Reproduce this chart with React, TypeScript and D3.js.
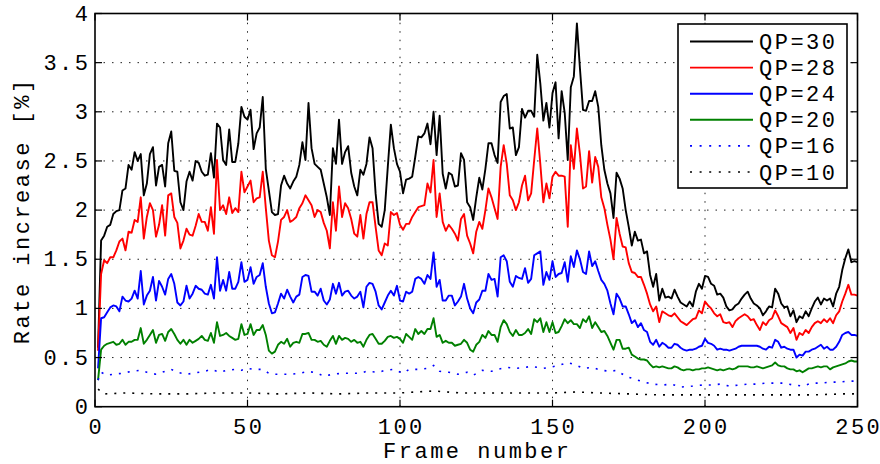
import React from "react";
import * as d3 from "d3";

const qp30 = [
  0.6, 1.69, 1.74, 1.83, 1.85, 1.96, 1.99, 2.0, 2.2, 2.22,
  2.46, 2.41, 2.59, 2.5, 2.57, 2.15, 2.27, 2.57, 2.64, 2.25,
  2.44, 2.46, 2.24, 2.68, 2.8, 2.4, 2.39, 2.08, 2.0, 2.29,
  2.39, 2.3, 2.5, 2.48, 2.39, 2.35, 2.36, 2.58, 2.33, 2.88,
  2.84, 2.51, 2.46, 2.82, 2.49, 2.49, 2.68, 3.05, 2.95, 2.92,
  3.02, 2.62, 2.78, 2.84, 3.15, 2.42, 2.2, 1.98, 1.95, 1.96,
  2.25, 2.35, 2.27, 2.22, 2.29, 2.34, 2.46, 2.69, 2.51, 3.09,
  2.63, 2.47, 2.44, 2.41, 2.27, 2.13, 1.95, 2.63, 2.47, 2.92,
  2.47, 2.59, 2.65, 2.38, 2.24, 2.15, 2.41, 2.36, 2.47, 2.74,
  2.63, 2.17, 1.86, 1.83, 2.0, 2.44, 2.87, 2.63, 2.47, 2.39,
  2.17, 2.31, 2.32, 2.34, 2.54, 2.75, 2.74, 2.78, 2.88, 2.67,
  3.0, 2.56, 2.96, 2.37, 2.22, 2.38, 2.36, 2.24, 2.25, 2.58,
  2.51, 2.08, 2.03, 1.9, 2.13, 2.33, 2.21, 2.42, 2.68, 2.68,
  2.56, 2.48, 3.1, 3.16, 3.18, 2.83, 2.84, 2.56, 2.64, 3.03,
  2.94, 3.01, 3.01, 2.95, 3.58, 3.29, 2.91, 3.09, 2.84, 3.19,
  3.3, 2.73, 3.21, 2.99, 2.51, 3.25, 3.36, 3.9, 3.44, 3.02,
  3.01, 3.11, 3.11, 3.21, 3.05, 2.66, 2.41, 2.27, 2.17, 1.92,
  2.38, 2.32, 2.22, 2.0, 1.83, 1.64, 1.78, 1.69, 1.7, 1.56,
  1.58, 1.34, 1.22, 1.35, 1.08, 1.2, 1.11, 1.12, 1.1, 1.19,
  1.12, 1.06, 1.04, 1.02, 1.07, 1.02, 1.17, 1.25, 1.2, 1.33,
  1.32, 1.25, 1.23, 1.14, 1.15, 1.11, 1.02, 0.98, 0.99, 1.03,
  1.05, 1.1, 1.14, 1.17, 1.1, 1.05, 1.03, 1.0, 0.93, 0.97,
  1.02, 1.01, 1.2, 1.15, 1.05, 1.01, 1.02, 0.92, 0.98, 0.86,
  0.92, 0.9, 0.97, 0.92, 1.0, 1.07, 1.11, 1.04, 1.1, 1.08,
  1.1, 1.02, 1.15, 1.22, 1.39, 1.51, 1.6, 1.47, 1.48, 1.47,
];

const qp28 = [
  0.57, 1.35, 1.49, 1.46, 1.52, 1.52, 1.59, 1.68, 1.71, 1.59,
  1.78, 1.77, 1.9, 1.88, 2.13, 1.71, 1.93, 2.07, 2.0, 1.73,
  1.85, 2.05, 1.74, 2.15, 2.17, 1.93, 1.87, 1.61, 1.69, 1.81,
  1.75, 1.74, 1.84, 1.96, 1.88, 1.88, 1.79, 2.03, 1.76, 2.51,
  2.0, 2.05, 1.96, 2.13, 1.97, 2.02, 1.98, 2.39, 2.18, 2.24,
  2.3, 2.08, 2.12, 2.13, 2.39, 2.02, 1.69, 1.54, 1.52, 1.68,
  1.9, 1.93, 2.0, 1.88, 1.9, 1.93, 2.02, 2.07, 2.15, 2.1,
  2.05, 1.93, 2.0, 1.98, 1.87, 1.79, 1.61, 2.08, 1.79, 2.24,
  1.93, 2.07, 2.02, 1.91, 1.76, 1.73, 1.95, 1.71, 1.96, 2.08,
  2.08, 1.83, 1.59, 1.54, 1.66, 1.64, 1.98, 1.95, 1.97, 1.85,
  1.8, 1.86, 1.86, 1.93, 1.98, 2.03, 2.04, 2.05, 2.27, 2.18,
  2.51, 1.93, 2.17, 1.88, 1.79, 1.85, 1.81, 1.76, 1.69, 1.91,
  1.96, 1.74, 1.66, 1.56, 1.78, 1.88, 1.81, 2.0, 2.22, 2.13,
  2.02, 1.91, 2.44, 2.66, 2.47, 2.15, 2.1, 2.0, 2.08, 2.25,
  2.35, 2.1, 2.17, 2.51, 2.83, 2.47, 2.08, 2.27, 2.12, 2.34,
  2.39, 2.35, 2.35, 2.34, 1.83, 2.66, 2.42, 2.83, 2.57, 2.22,
  2.24, 2.6, 2.28, 2.54, 2.44, 2.13, 2.02, 1.85, 1.7, 1.5,
  1.92, 1.76, 1.63, 1.62, 1.46, 1.37, 1.36, 1.32, 1.32, 1.24,
  1.15, 1.04, 0.97, 1.02, 0.86, 0.97, 0.95, 0.93, 0.92, 0.95,
  0.91, 0.87, 0.85, 0.83, 0.86, 0.89, 0.9, 0.98, 0.95, 1.07,
  1.03, 1.0, 0.95, 0.92, 0.94, 0.86, 0.85, 0.86, 0.81, 0.87,
  0.9, 0.92, 0.94, 0.92, 0.88, 0.89, 0.83, 0.78, 0.86, 0.83,
  0.88, 0.9, 0.98, 0.92, 0.85, 0.83, 0.81, 0.75, 0.8, 0.68,
  0.75, 0.73, 0.78, 0.75, 0.81, 0.85, 0.87, 0.85, 0.89, 0.86,
  0.9, 0.85, 0.93, 0.97, 1.07, 1.15, 1.24, 1.14, 1.14, 1.13,
];

const qp24 = [
  0.39, 0.9, 0.91, 0.96, 1.01, 1.03, 1.02, 0.97, 1.12, 1.08,
  1.07, 1.1, 1.18, 1.1, 1.38, 1.04, 1.13, 1.18, 1.32, 1.08,
  1.28, 1.22, 1.14, 1.3, 1.35, 1.25, 1.06, 1.03, 1.07, 1.23,
  1.1, 1.15, 1.23, 1.2, 1.19, 1.15, 1.14, 1.24, 1.1, 1.52,
  1.18, 1.29, 1.18, 1.37, 1.2, 1.2, 1.27, 1.47, 1.27, 1.29,
  1.42, 1.25, 1.32, 1.34, 1.46, 1.22, 1.05, 0.95, 0.96, 1.05,
  1.15, 1.1, 1.19, 1.12, 1.06, 1.12, 1.14, 1.32, 1.34, 1.33,
  1.17, 1.17, 1.13, 1.2, 1.08, 1.04, 1.09, 1.25, 1.15, 1.26,
  1.13, 1.17, 1.18, 1.13, 1.1, 1.12, 1.17, 1.01, 1.22, 1.26,
  1.25, 1.17, 1.03, 0.99, 1.06, 1.13, 1.18, 1.13, 1.23, 1.08,
  1.07, 1.17, 1.15, 1.17, 1.3, 1.32, 1.3, 1.25, 1.34, 1.3,
  1.57, 1.22, 1.29, 1.08, 1.08, 1.13, 1.13, 1.03, 1.07, 1.12,
  1.25, 1.1, 1.0, 0.95, 1.06, 1.09, 1.18, 1.18, 1.35, 1.29,
  1.3, 1.12, 1.52, 1.54, 1.48, 1.27, 1.22, 1.33, 1.31, 1.3,
  1.41, 1.26, 1.3, 1.54, 1.56, 1.58, 1.24, 1.37, 1.29, 1.48,
  1.32, 1.35, 1.36, 1.47, 1.27, 1.53, 1.42, 1.59, 1.5, 1.37,
  1.35, 1.58, 1.43, 1.48, 1.38, 1.29, 1.25, 1.18, 1.05, 0.94,
  1.15, 1.1, 1.02, 1.02, 0.94, 0.85, 0.88, 0.81, 0.85, 0.78,
  0.76, 0.66, 0.63, 0.68, 0.61, 0.65, 0.63, 0.6, 0.6, 0.64,
  0.63, 0.6, 0.58, 0.57, 0.58, 0.58, 0.59, 0.61, 0.62, 0.69,
  0.65, 0.64, 0.62, 0.58, 0.59, 0.58, 0.58, 0.57, 0.58, 0.59,
  0.61, 0.62, 0.62, 0.62, 0.62, 0.62, 0.62, 0.61, 0.59, 0.58,
  0.61, 0.6, 0.68, 0.66, 0.6, 0.61, 0.59, 0.58, 0.58, 0.5,
  0.53, 0.52, 0.56, 0.56, 0.58, 0.59, 0.61, 0.63, 0.59, 0.61,
  0.58, 0.58, 0.61, 0.66, 0.73, 0.75, 0.76, 0.73, 0.73, 0.72,
];

const qp20 = [
  0.27, 0.58, 0.62, 0.64, 0.65, 0.66, 0.63, 0.64, 0.68, 0.63,
  0.66, 0.66, 0.68, 0.68, 0.8, 0.64, 0.68, 0.73, 0.78, 0.65,
  0.73, 0.74, 0.67, 0.76, 0.79, 0.74, 0.68, 0.64, 0.68, 0.63,
  0.68, 0.65, 0.67, 0.69, 0.72, 0.68, 0.67, 0.75, 0.65, 0.86,
  0.72, 0.73, 0.75, 0.72, 0.7, 0.68, 0.69, 0.84, 0.73, 0.74,
  0.84, 0.73, 0.78, 0.78, 0.83, 0.73, 0.57, 0.54, 0.56, 0.63,
  0.66, 0.64, 0.69, 0.61, 0.65, 0.66, 0.65, 0.74, 0.74, 0.75,
  0.68, 0.68, 0.66, 0.67, 0.63, 0.61, 0.67, 0.72, 0.64, 0.72,
  0.68, 0.7, 0.69, 0.66, 0.68, 0.65, 0.66, 0.61, 0.68, 0.73,
  0.74, 0.69, 0.64, 0.64, 0.67, 0.71, 0.72, 0.7, 0.71, 0.69,
  0.65, 0.74, 0.71, 0.68, 0.79, 0.74, 0.77, 0.74, 0.79, 0.79,
  0.9, 0.71, 0.73, 0.65, 0.67, 0.65, 0.65, 0.62, 0.63, 0.64,
  0.68, 0.65, 0.58, 0.56, 0.63, 0.66, 0.73, 0.7, 0.77, 0.73,
  0.73, 0.66, 0.81, 0.88, 0.84, 0.76, 0.72, 0.78, 0.73, 0.73,
  0.75, 0.79, 0.74, 0.89, 0.86, 0.9, 0.76, 0.86, 0.76, 0.86,
  0.75, 0.76, 0.82, 0.89, 0.85, 0.88, 0.84, 0.84, 0.8, 0.89,
  0.86, 0.92, 0.8, 0.86, 0.81, 0.76, 0.77, 0.72, 0.65, 0.58,
  0.68, 0.68, 0.59, 0.59, 0.6, 0.53, 0.51, 0.49, 0.48, 0.48,
  0.47, 0.43, 0.4, 0.41, 0.4, 0.41, 0.4, 0.39, 0.39, 0.41,
  0.4, 0.38, 0.37, 0.38, 0.38, 0.37, 0.38, 0.38, 0.39, 0.39,
  0.4, 0.39, 0.38, 0.37, 0.38, 0.37, 0.38, 0.39, 0.38, 0.39,
  0.41, 0.41, 0.41, 0.41, 0.4, 0.4, 0.41, 0.4, 0.39, 0.4,
  0.41, 0.42, 0.45, 0.42, 0.41, 0.41, 0.39, 0.38, 0.38, 0.36,
  0.37, 0.35, 0.37, 0.39, 0.39, 0.4, 0.41, 0.4, 0.41, 0.41,
  0.38, 0.4, 0.41, 0.42, 0.43, 0.44, 0.46, 0.47, 0.46, 0.46,
];

const qp16Frames = [1, 2, 4, 6, 9, 12, 15, 17, 20, 22, 25, 27, 30, 32, 36, 38, 41, 43, 46, 48, 50, 52, 55, 57, 59, 62, 64, 67, 70, 73, 75, 78, 81, 84, 87, 89, 93, 95, 98, 101, 103, 106, 109, 111, 113, 116, 119, 122, 124, 127, 130, 132, 135, 138, 141, 143, 147, 149, 152, 155, 158, 160, 163, 166, 169, 171, 174, 177, 180, 183, 186, 189, 192, 196, 199, 202, 205, 208, 211, 214, 217, 220, 223, 226, 229, 232, 235, 238, 241, 244, 247, 250];
const qp16 = [0.27, 0.35, 0.32, 0.33, 0.34, 0.36, 0.37, 0.35, 0.33, 0.35, 0.38, 0.35, 0.33, 0.34, 0.36, 0.38, 0.35, 0.37, 0.38, 0.37, 0.39, 0.38, 0.38, 0.34, 0.33, 0.33, 0.33, 0.34, 0.36, 0.34, 0.31, 0.33, 0.34, 0.34, 0.34, 0.36, 0.35, 0.37, 0.38, 0.34, 0.38, 0.38, 0.39, 0.42, 0.36, 0.35, 0.33, 0.35, 0.32, 0.37, 0.36, 0.38, 0.4, 0.39, 0.4, 0.41, 0.39, 0.4, 0.42, 0.45, 0.42, 0.39, 0.4, 0.37, 0.36, 0.37, 0.31, 0.28, 0.25, 0.23, 0.22, 0.23, 0.2, 0.21, 0.22, 0.22, 0.23, 0.21, 0.22, 0.23, 0.23, 0.24, 0.24, 0.24, 0.22, 0.21, 0.24, 0.24, 0.25, 0.25, 0.26, 0.26];

const qp10Frames = [1, 3, 10, 20, 30, 40, 50, 60, 70, 80, 90, 100, 111, 120, 130, 140, 150, 158, 165, 175, 185, 195, 205, 215, 225, 235, 245, 250];
const qp10 = [0.18, 0.13, 0.14, 0.13, 0.13, 0.14, 0.14, 0.13, 0.14, 0.13, 0.14, 0.14, 0.16, 0.14, 0.14, 0.14, 0.14, 0.15, 0.14, 0.13, 0.12, 0.12, 0.12, 0.12, 0.12, 0.12, 0.13, 0.13];

const xTicks = [0, 50, 100, 150, 200, 250];
const yTicks = [0, 0.5, 1, 1.5, 2, 2.5, 3, 3.5, 4];
const legendLabels = ["QP=30", "QP=28", "QP=24", "QP=20", "QP=16", "QP=10"];

const FONT = "'Liberation Mono', 'DejaVu Sans Mono', monospace";
const FS = 22;
const LS = 2.5;

export default function App() {
  const L = 95, R = 857.5, T = 13.5, B = 406.7;
  const x = d3.scaleLinear().domain([0, 250]).range([L, R]);
  const y = d3.scaleLinear().domain([0, 4]).range([B, T]);
  const frames = d3.range(1, qp30.length + 1);

  const line = d3
    .line<[number, number]>()
    .x((d) => x(d[0]))
    .y((d) => y(d[1]));

  const pairs = (fs: number[], vs: number[]) => vs.map((v, i) => [fs[i], v] as [number, number]);

  const series = [
    { label: legendLabels[0], color: "#000000", data: pairs(frames, qp30), dash: null },
    { label: legendLabels[1], color: "#ff0000", data: pairs(frames, qp28), dash: null },
    { label: legendLabels[2], color: "#0000ff", data: pairs(frames, qp24), dash: null },
    { label: legendLabels[3], color: "#008000", data: pairs(frames, qp20), dash: null },
    { label: legendLabels[4], color: "#0000ff", data: pairs(qp16Frames, qp16), dash: "2 7" },
    { label: legendLabels[5], color: "#000000", data: pairs(qp10Frames, qp10), dash: "2 7" },
  ];

  const legX = 678, legY = 24, legW = 169, legH = 164;
  const rowY0 = 41.5, rowStep = 26.1;

  const txt = { fontSize: FS, fill: "#000", letterSpacing: LS } as const;

  return (
    <svg
      width={880}
      height={464}
      style={{ position: "absolute", left: 0, top: 0, background: "#fff" }}
      fontFamily={FONT}
    >
      <defs>
        <clipPath id="plotclip">
          <rect x={L} y={T} width={R - L} height={B - T} />
        </clipPath>
      </defs>
      <rect x={0} y={0} width={880} height={464} fill="#fff" />
      {/* grid */}
      {xTicks.slice(1, -1).map((t) => (
        <line key={"gx" + t} x1={x(t)} x2={x(t)} y1={B} y2={T} stroke="#222" strokeWidth={1} strokeDasharray="1.5 7" />
      ))}
      {yTicks.slice(1, -1).map((t) => (
        <line key={"gy" + t} x1={L} x2={R} y1={y(t)} y2={y(t)} stroke="#222" strokeWidth={1} strokeDasharray="1.5 7" />
      ))}
      {/* series */}
      <g clipPath="url(#plotclip)">
        {series.map((s) => (
          <path
            key={s.label}
            d={line(s.data) || ""}
            fill="none"
            stroke={s.color}
            strokeWidth={s.dash ? 1.6 : 1.9}
            strokeDasharray={s.dash || undefined}
            strokeLinejoin="round"
          />
        ))}
      </g>
      {/* axes box */}
      <rect x={L} y={T} width={R - L} height={B - T} fill="none" stroke="#000" strokeWidth={1.6} />
      {/* ticks */}
      {xTicks.map((t) => (
        <g key={"tx" + t}>
          <line x1={x(t)} x2={x(t)} y1={B} y2={B - 7} stroke="#000" strokeWidth={1.2} />
          <line x1={x(t)} x2={x(t)} y1={T} y2={T + 7} stroke="#000" strokeWidth={1.2} />
          <text x={x(t) + LS / 2} y={434} textAnchor="middle" {...txt}>
            {t}
          </text>
        </g>
      ))}
      {yTicks.map((t) => (
        <g key={"ty" + t}>
          <line x1={L} x2={L + 7} y1={y(t)} y2={y(t)} stroke="#000" strokeWidth={1.2} />
          <line x1={R} x2={R - 7} y1={y(t)} y2={y(t)} stroke="#000" strokeWidth={1.2} />
          <text x={88 + LS} y={y(t) + 7} textAnchor="end" {...txt}>
            {t}
          </text>
        </g>
      ))}
      {/* axis labels */}
      <text x={476 + LS / 2} y={458} textAnchor="middle" {...txt}>
        Frame number
      </text>
      <text transform={`translate(28.5,${212 - LS / 2}) rotate(-90)`} textAnchor="middle" {...txt}>
        Rate increase [%]
      </text>
      {/* legend */}
      <rect x={legX} y={legY} width={legW} height={legH} fill="#fff" stroke="#000" strokeWidth={1.6} />
      {series.map((s, i) => {
        const ry = rowY0 + i * rowStep;
        return (
          <g key={"leg" + s.label}>
            <line
              x1={690}
              x2={753}
              y1={ry}
              y2={ry}
              stroke={s.color}
              strokeWidth={s.dash ? 1.6 : 1.9}
              strokeDasharray={s.dash ? "2 7.6" : undefined}
            />
            <text x={759} y={ry + 7.5} {...txt}>
              {s.label}
            </text>
          </g>
        );
      })}
    </svg>
  );
}
